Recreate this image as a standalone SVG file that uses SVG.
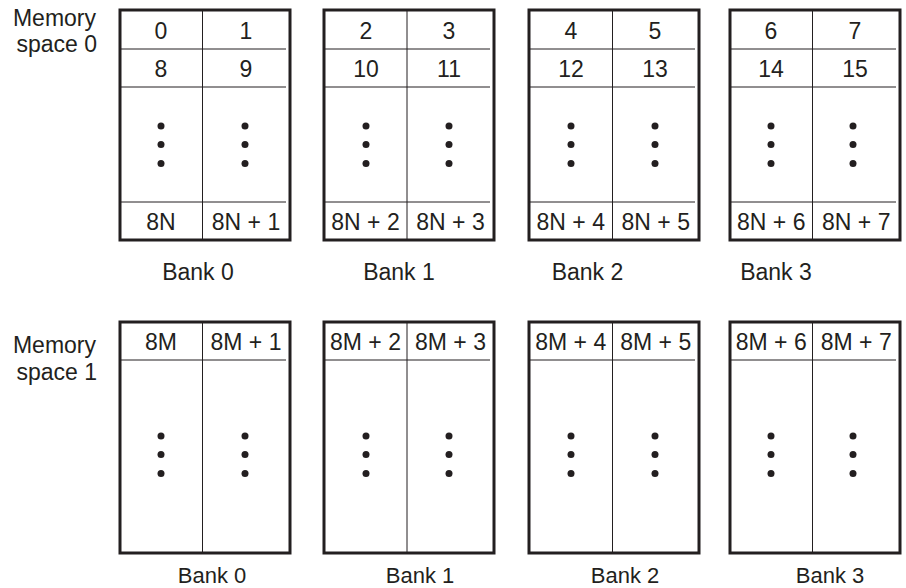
<svg xmlns="http://www.w3.org/2000/svg" xmlns:xlink="http://www.w3.org/1999/xlink" width="906" height="588" viewBox="0 0 906 588">
<style>
.box{fill:#fff;stroke:#231f20;stroke-width:3}
.ln{stroke:#231f20;stroke-width:1;fill:none}
text{font-family:"Liberation Sans",Arial,sans-serif;font-size:23px;fill:#231f20}
.c{text-anchor:middle}
.e{text-anchor:end}
.b{font-size:22px}
</style>
<defs>
<g id="dots"><circle cx="0" cy="0" r="3.5" fill="#231f20"/><circle cx="0" cy="18.5" r="3.5" fill="#231f20"/><circle cx="0" cy="37.5" r="3.5" fill="#231f20"/></g>
</defs>
<rect width="906" height="588" fill="#fff"/>
<g id="label-space0"><text class="e" x="96" y="26">Memory</text><text class="e" x="97" y="52">space 0</text></g>
<g id="label-space1"><text class="e" x="96" y="353">Memory</text><text class="e" x="97" y="380">space 1</text></g>

<g id="s0-bank0">
<rect class="box" x="120" y="10" width="170" height="230"/>
<line class="ln" x1="202.5" y1="10" x2="202.5" y2="240"/>
<line class="ln" x1="120" y1="49" x2="286" y2="49"/>
<line class="ln" x1="120" y1="87" x2="286" y2="87"/>
<line class="ln" x1="120" y1="202" x2="286" y2="202"/>
<text class="c" x="161" y="39">0</text><text class="c" x="246" y="39">1</text>
<text class="c" x="161" y="77">8</text><text class="c" x="246" y="77">9</text>
<use xlink:href="#dots" x="161" y="126"/><use xlink:href="#dots" x="245" y="126"/>
<text class="c" x="161" y="230">8N</text><text class="c" x="246" y="230">8N + 1</text>
<text class="c" x="198" y="280">Bank 0</text>
</g>
<g id="s0-bank1">
<rect class="box" x="324" y="10" width="170" height="230"/>
<line class="ln" x1="407" y1="10" x2="407" y2="240"/>
<line class="ln" x1="324" y1="49" x2="490" y2="49"/>
<line class="ln" x1="324" y1="87" x2="490" y2="87"/>
<line class="ln" x1="324" y1="202" x2="490" y2="202"/>
<text class="c" x="366" y="39">2</text><text class="c" x="449" y="39">3</text>
<text class="c" x="366" y="77">10</text><text class="c" x="449" y="77">11</text>
<use xlink:href="#dots" x="366" y="126"/><use xlink:href="#dots" x="449" y="126"/>
<text class="c" x="365.5" y="230">8N + 2</text><text class="c" x="450.5" y="230">8N + 3</text>
<text class="c" x="399" y="280">Bank 1</text>
</g>
<g id="s0-bank2">
<rect class="box" x="529" y="10" width="170" height="230"/>
<line class="ln" x1="612.5" y1="10" x2="612.5" y2="240"/>
<line class="ln" x1="529" y1="49" x2="695" y2="49"/>
<line class="ln" x1="529" y1="87" x2="695" y2="87"/>
<line class="ln" x1="529" y1="202" x2="695" y2="202"/>
<text class="c" x="571" y="39">4</text><text class="c" x="655" y="39">5</text>
<text class="c" x="571" y="77">12</text><text class="c" x="655" y="77">13</text>
<use xlink:href="#dots" x="571" y="126"/><use xlink:href="#dots" x="655" y="126"/>
<text class="c" x="570.75" y="230">8N + 4</text><text class="c" x="655.75" y="230">8N + 5</text>
<text class="c" x="587.5" y="280">Bank 2</text>
</g>
<g id="s0-bank3">
<rect class="box" x="730" y="10" width="170" height="230"/>
<line class="ln" x1="812.5" y1="10" x2="812.5" y2="240"/>
<line class="ln" x1="730" y1="49" x2="896" y2="49"/>
<line class="ln" x1="730" y1="87" x2="896" y2="87"/>
<line class="ln" x1="730" y1="202" x2="896" y2="202"/>
<text class="c" x="771" y="39">6</text><text class="c" x="855" y="39">7</text>
<text class="c" x="771" y="77">14</text><text class="c" x="855" y="77">15</text>
<use xlink:href="#dots" x="771" y="126"/><use xlink:href="#dots" x="853" y="126"/>
<text class="c" x="771.25" y="230">8N + 6</text><text class="c" x="856.25" y="230">8N + 7</text>
<text class="c" x="776" y="280">Bank 3</text>
</g>

<g id="s1-bank0">
<rect class="box" x="120" y="322" width="170" height="231"/>
<line class="ln" x1="202.5" y1="322" x2="202.5" y2="553"/>
<line class="ln" x1="120" y1="360" x2="286" y2="360"/>
<text class="c" x="161" y="350">8M</text><text class="c" x="246" y="350">8M + 1</text>
<use xlink:href="#dots" x="161" y="436"/><use xlink:href="#dots" x="245" y="436"/>
<text class="c b" x="212" y="583">Bank 0</text>
</g>
<g id="s1-bank1">
<rect class="box" x="324" y="322" width="170" height="231"/>
<line class="ln" x1="407" y1="322" x2="407" y2="553"/>
<line class="ln" x1="324" y1="360" x2="490" y2="360"/>
<text class="c" x="365.5" y="350">8M + 2</text><text class="c" x="450.5" y="350">8M + 3</text>
<use xlink:href="#dots" x="366" y="436"/><use xlink:href="#dots" x="449" y="436"/>
<text class="c b" x="420" y="583">Bank 1</text>
</g>
<g id="s1-bank2">
<rect class="box" x="529" y="322" width="170" height="231"/>
<line class="ln" x1="612.5" y1="322" x2="612.5" y2="553"/>
<line class="ln" x1="529" y1="360" x2="695" y2="360"/>
<text class="c" x="570.75" y="350">8M + 4</text><text class="c" x="655.75" y="350">8M + 5</text>
<use xlink:href="#dots" x="571" y="436"/><use xlink:href="#dots" x="655" y="436"/>
<text class="c b" x="625" y="583">Bank 2</text>
</g>
<g id="s1-bank3">
<rect class="box" x="730" y="322" width="170" height="231"/>
<line class="ln" x1="812.5" y1="322" x2="812.5" y2="553"/>
<line class="ln" x1="730" y1="360" x2="896" y2="360"/>
<text class="c" x="771.25" y="350">8M + 6</text><text class="c" x="856.25" y="350">8M + 7</text>
<use xlink:href="#dots" x="771" y="436"/><use xlink:href="#dots" x="853" y="436"/>
<text class="c b" x="830" y="583">Bank 3</text>
</g>
<g id="connectors"></g>
</svg>
